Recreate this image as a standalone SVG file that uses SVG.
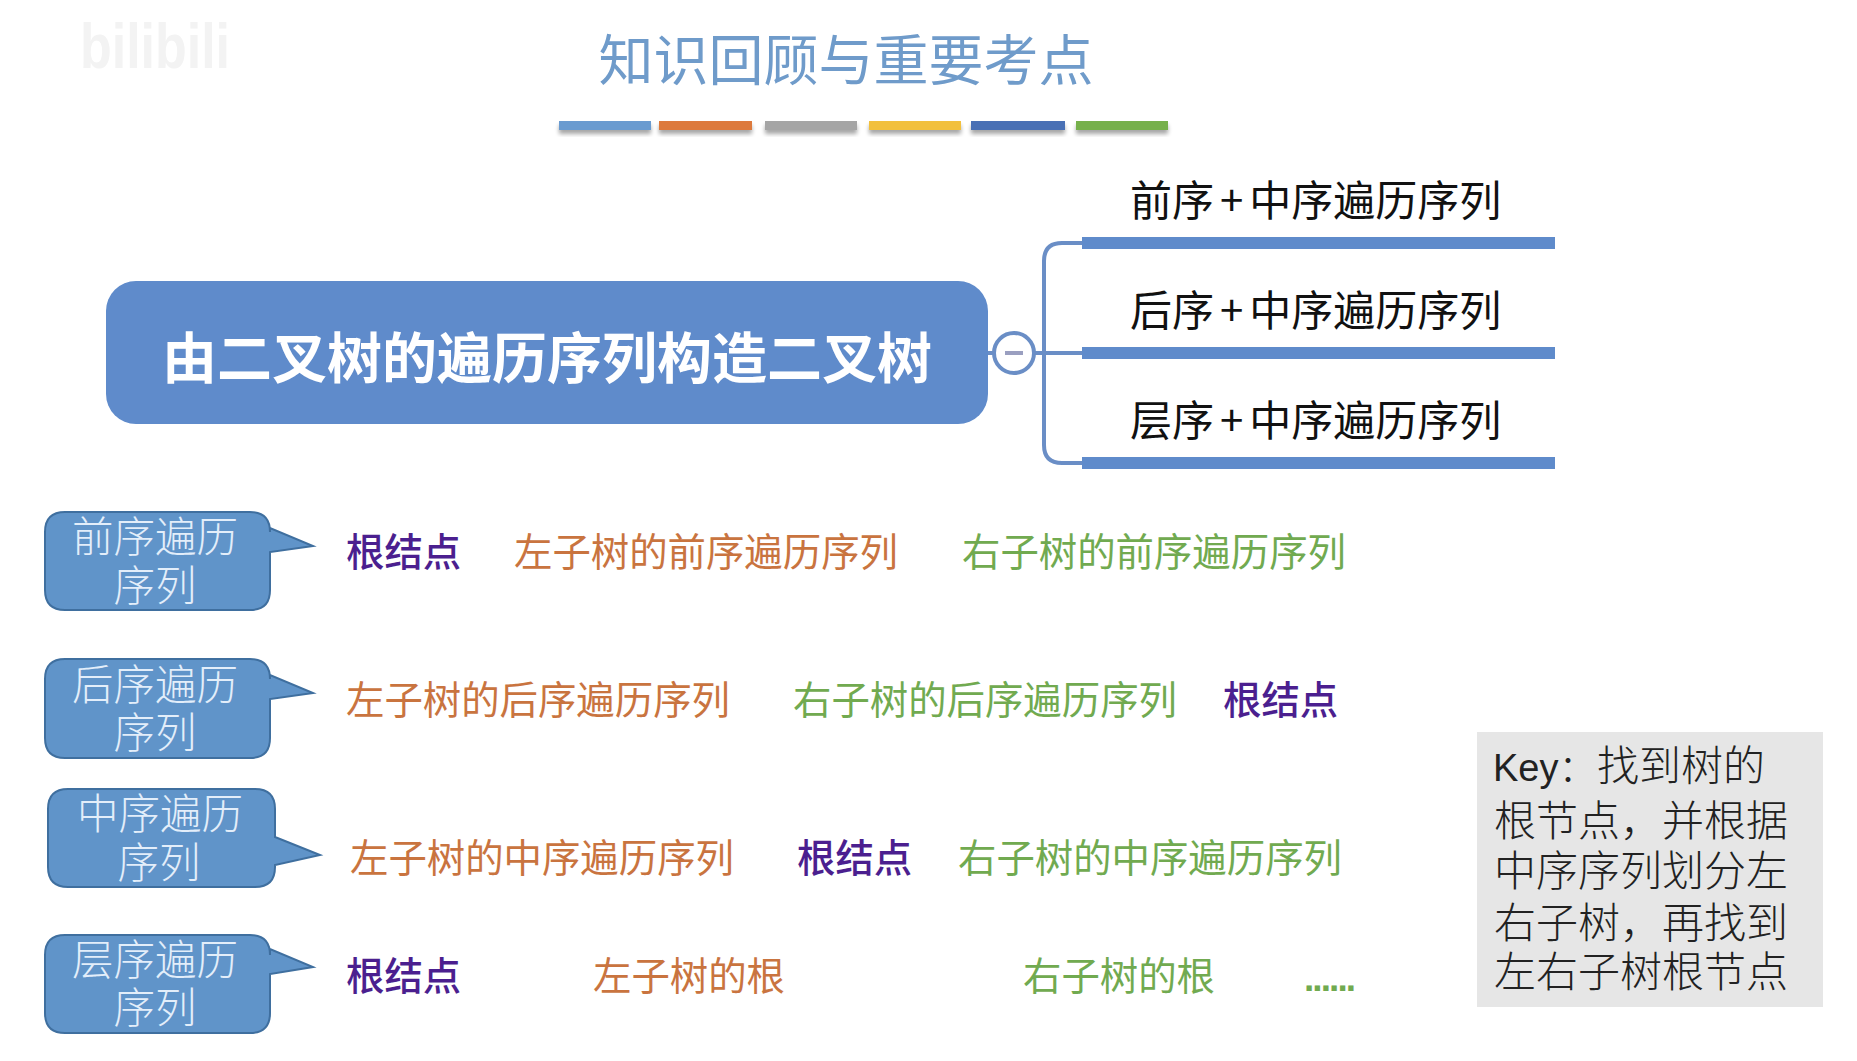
<svg xmlns="http://www.w3.org/2000/svg" width="1857" height="1061" viewBox="0 0 1857 1061">
<style>
text{font-family:"Noto Sans CJK SC","Noto Sans",sans-serif}
.title{font-size:55px;fill:#6f9bca;font-weight:400;text-anchor:middle}
.main{font-size:55px;fill:#fff;font-weight:700;text-anchor:middle}
.branch{font-size:42px;fill:#111;font-weight:400}
.bar{fill:#5f8bcb}
.call{fill:#6094c9;stroke:#3f6f9f;stroke-width:2}
.ct{font-size:41.5px;fill:#e3eefa;font-weight:300;text-anchor:middle}
.r{font-size:38.4px}
.p{fill:#4b1f8f;font-weight:500}
.o{fill:#c9743f;font-weight:400}
.g{fill:#71aa50;font-weight:400}
.k{font-size:42px;fill:#222;font-weight:300}
.conn{fill:none;stroke:#6a8ec6;stroke-width:4}
</style>
<defs><filter id="sh" x="-5%" y="-30%" width="110%" height="200%"><feGaussianBlur in="SourceAlpha" stdDeviation="2"/><feOffset dy="4"/><feComponentTransfer><feFuncA type="linear" slope="0.35"/></feComponentTransfer><feMerge><feMergeNode/><feMergeNode in="SourceGraphic"/></feMerge></filter></defs>
<rect width="1857" height="1061" fill="#fff"/>
<g id="watermark"><text transform="translate(80 68) scale(1 1.5)" font-size="42" font-weight="700" fill="#f3f3f3" textLength="150" lengthAdjust="spacingAndGlyphs" style="font-family:'Liberation Sans',sans-serif">bilibili</text></g>
<g id="title"><text class="title" x="846" y="80">知识回顾与重要考点</text>
<g filter="url(#sh)"><rect x="559" y="121" width="92" height="9" fill="#6a9bd0"/><rect x="659" y="121" width="93" height="9" fill="#dd7a3e"/><rect x="765" y="121" width="92" height="9" fill="#a5a5a5"/><rect x="869" y="121" width="92" height="9" fill="#f2c03c"/><rect x="971" y="121" width="94" height="9" fill="#4a6fb5"/><rect x="1076" y="121" width="92" height="9" fill="#76b04c"/></g></g>
<g id="connectors">
<path class="conn" d="M988 353H994"/>
<path class="conn" d="M1082 243H1062Q1044 243 1044 261V445Q1044 463 1062 463H1082M1034 353H1082"/>
</g>
<g id="root"><rect x="106" y="281" width="882" height="143" rx="30" fill="#5f8bcb"/><text class="main" x="547" y="378">由二叉树的遍历序列构造二叉树</text></g>
<g id="collapse"><ellipse cx="1014" cy="353" rx="20" ry="20" fill="#fff" stroke="#6a8ec6" stroke-width="4"/><rect x="1005" y="351" width="18" height="4" fill="#9a9fc0"/></g>
<g id="branch1"><rect class="bar" x="1082" y="237" width="473" height="12"/><text class="branch" x="1130" y="216">前序<tspan dx="6">+</tspan><tspan dx="6">中序遍历序列</tspan></text></g>
<g id="branch2"><rect class="bar" x="1082" y="347" width="473" height="12"/><text class="branch" x="1130" y="326">后序<tspan dx="6">+</tspan><tspan dx="6">中序遍历序列</tspan></text></g>
<g id="branch3"><rect class="bar" x="1082" y="457" width="473" height="12"/><text class="branch" x="1130" y="436">层序<tspan dx="6">+</tspan><tspan dx="6">中序遍历序列</tspan></text></g>
<g id="preorder"><path class="call" d="M65 512H250Q270 512 270 532V528L313 546L270 552V590Q270 610 250 610H65Q45 610 45 590V532Q45 512 65 512Z"/><text class="ct" x="155" y="552">前序遍历</text><text class="ct" x="155" y="601">序列</text></g>
<g id="postorder"><path class="call" d="M65 659H250Q270 659 270 679V675L313 693L270 699V738Q270 758 250 758H65Q45 758 45 738V679Q45 659 65 659Z"/><text class="ct" x="155" y="700">后序遍历</text><text class="ct" x="155" y="748">序列</text></g>
<g id="inorder"><path class="call" d="M68 789H255Q275 789 275 809V837L320 855L275 865V867Q275 887 255 887H68Q48 887 48 867V809Q48 789 68 789Z"/><text class="ct" x="160" y="829">中序遍历</text><text class="ct" x="159" y="878">序列</text></g>
<g id="levelorder"><path class="call" d="M65 935H250Q270 935 270 955V949L313 967L270 974V1013Q270 1033 250 1033H65Q45 1033 45 1013V955Q45 935 65 935Z"/><text class="ct" x="155" y="975">层序遍历</text><text class="ct" x="155" y="1023">序列</text></g>
<g id="row1"><text class="r p" x="346" y="566">根结点</text><text class="r o" x="514" y="566">左子树的前序遍历序列</text><text class="r g" x="962" y="566">右子树的前序遍历序列</text></g>
<g id="row2"><text class="r o" x="346" y="714">左子树的后序遍历序列</text><text class="r g" x="793" y="714">右子树的后序遍历序列</text><text class="r p" x="1223" y="714">根结点</text></g>
<g id="row3"><text class="r o" x="350" y="872">左子树的中序遍历序列</text><text class="r p" x="797" y="872">根结点</text><text class="r g" x="958" y="872">右子树的中序遍历序列</text></g>
<g id="row4"><text class="r p" x="346" y="990">根结点</text><text class="r o" x="593" y="990">左子树的根</text><text class="r g" x="1023" y="990">右子树的根</text><text class="r g" x="1304" y="991" style="font-family:'Liberation Sans',sans-serif;font-weight:700;font-size:37px" textLength="52">......</text></g>
<g id="key"><rect x="1477" y="732" width="346" height="275" fill="#e6e6e6"/>
<text class="k" x="1493" y="781" style="font-family:'Liberation Sans','Noto Sans CJK SC',sans-serif;font-size:38px">Key：</text><text class="k" x="1597" y="781">找到树的</text>
<text class="k" x="1494" y="836">根节点，并根据</text>
<text class="k" x="1494" y="886">中序序列划分左</text>
<text class="k" x="1494" y="938">右子树，再找到</text>
<text class="k" x="1494" y="987">左右子树根节点</text></g>
</svg>
